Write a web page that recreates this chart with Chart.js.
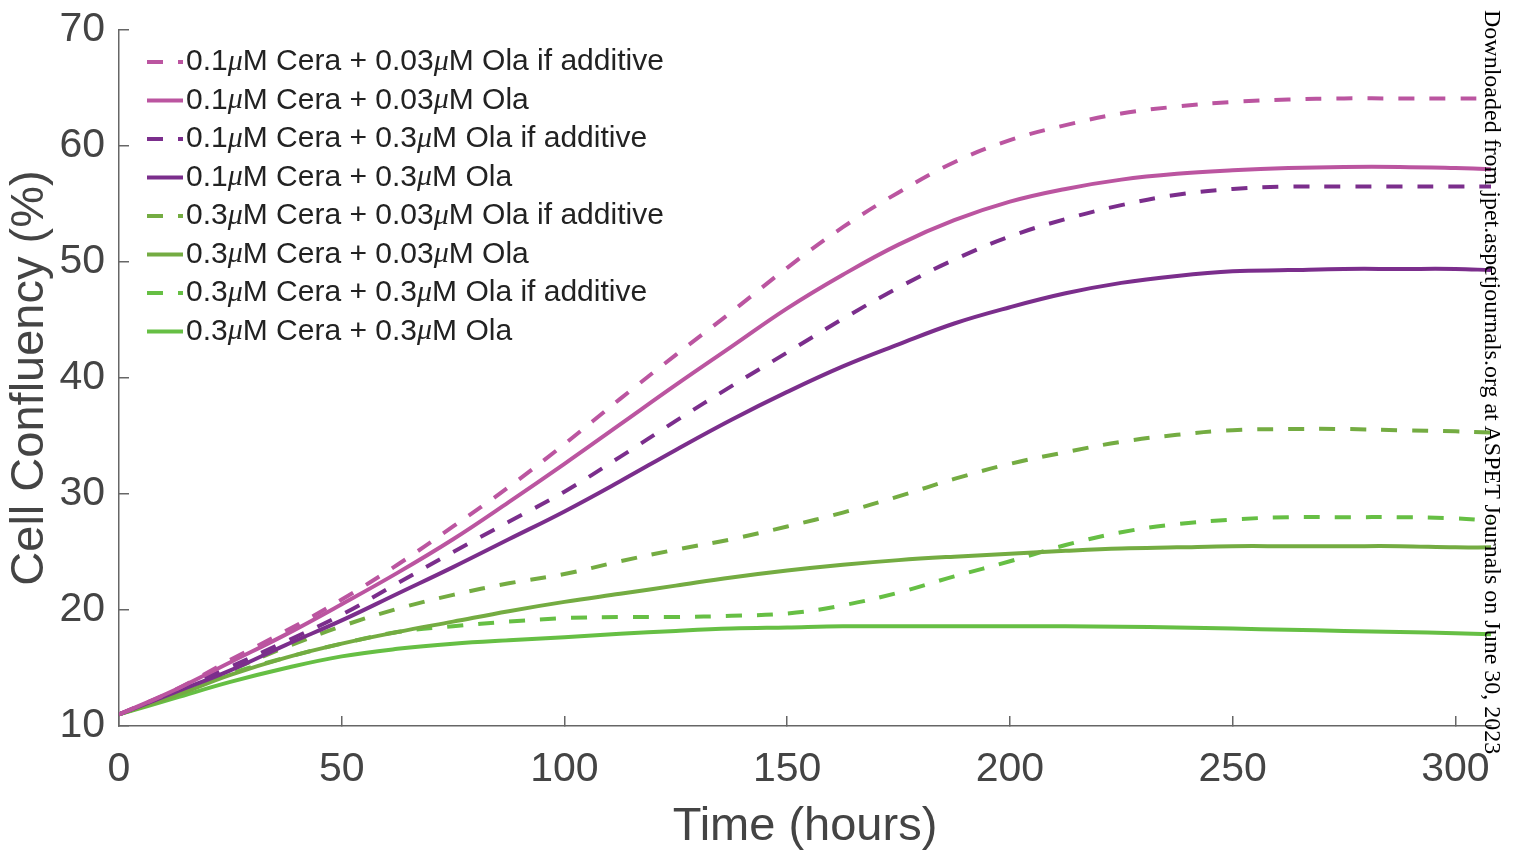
<!DOCTYPE html>
<html>
<head>
<meta charset="utf-8">
<script src="https://cdn.jsdelivr.net/npm/chart.js@4.4.0/dist/chart.umd.min.js"></script>
<style>
html,body{margin:0;padding:0;background:#fff;}
#wrap{position:relative;width:1522px;height:855px;}
#wm{position:absolute;left:1506px;top:10px;transform-origin:0 0;transform:rotate(90deg);
    font-family:"Liberation Serif","Times New Roman",serif;font-size:24px;line-height:26px;
    white-space:nowrap;color:#000;z-index:2;}
</style>
</head>
<body>
<div id="wrap">
<canvas id="c" width="1522" height="855"></canvas>
<div id="wm">Downloaded from jpet.aspetjournals.org at ASPET Journals on June 30, 2023</div>
</div>
<script>
// ---- data ----
const hours = [0, 12.5, 25, 37.5, 50, 62.5, 75, 87.5, 100, 112.5, 125, 137.5, 150, 162.5, 175, 187.5, 200, 212.5, 225, 237.5, 250, 262.5, 275, 287.5, 300, 308];

const cera01_ola003_additive = [11, 13.1, 15.7, 18.2, 20.9, 23.9, 27.2, 30.6, 34.3, 38.2, 42.0, 45.7, 49.5, 53.0, 56.0, 58.6, 60.5, 61.8, 62.8, 63.4, 63.8, 64.0, 64.1, 64.1, 64.1, 64.1];
const cera01_ola003 = [11, 13.1, 15.5, 17.9, 20.5, 23.2, 26.1, 29.3, 32.6, 36.0, 39.4, 42.7, 46.0, 48.9, 51.5, 53.6, 55.2, 56.3, 57.1, 57.6, 57.9, 58.1, 58.2, 58.2, 58.1, 58.0];
const cera01_ola03_additive = [11, 13.0, 15.1, 17.3, 19.6, 22.3, 25.0, 27.6, 30.2, 33.2, 36.3, 39.3, 42.2, 45.1, 47.8, 50.2, 52.2, 53.7, 54.9, 55.8, 56.3, 56.5, 56.5, 56.5, 56.5, 56.5];
const cera01_ola03 = [11, 12.9, 14.8, 17.0, 19.1, 21.4, 23.7, 26.1, 28.5, 31.1, 33.8, 36.4, 38.8, 41.0, 42.9, 44.7, 46.1, 47.3, 48.2, 48.8, 49.2, 49.3, 49.4, 49.4, 49.4, 49.3];
const cera03_ola003_additive = [11, 12.8, 14.8, 16.8, 18.6, 20.1, 21.3, 22.3, 23.1, 24.2, 25.2, 26.1, 27.2, 28.4, 29.8, 31.3, 32.6, 33.6, 34.5, 35.1, 35.5, 35.6, 35.6, 35.5, 35.4, 35.3];
const cera03_ola003 = [11, 12.6, 14.4, 15.9, 17.1, 18.1, 19.0, 19.9, 20.7, 21.4, 22.1, 22.8, 23.4, 23.9, 24.3, 24.6, 24.85, 25.1, 25.3, 25.4, 25.5, 25.5, 25.5, 25.5, 25.4, 25.4];
const cera03_ola03_additive = [11, 12.7, 14.5, 15.9, 17.1, 18.1, 18.6, 19.0, 19.3, 19.4, 19.4, 19.5, 19.7, 20.4, 21.5, 22.9, 24.2, 25.6, 26.7, 27.4, 27.8, 28.0, 28.0, 28.0, 27.9, 27.7];
const cera03_ola03 = [11, 12.4, 13.8, 15.0, 16.0, 16.65, 17.1, 17.4, 17.65, 17.95, 18.2, 18.4, 18.5, 18.6, 18.6, 18.6, 18.6, 18.6, 18.55, 18.5, 18.4, 18.3, 18.2, 18.1, 18.0, 17.9];

const seriesLabels = [
  "0.1μM Cera + 0.03μM Ola if additive",
  "0.1μM Cera + 0.03μM Ola",
  "0.1μM Cera + 0.3μM Ola if additive",
  "0.1μM Cera + 0.3μM Ola",
  "0.3μM Cera + 0.03μM Ola if additive",
  "0.3μM Cera + 0.03μM Ola",
  "0.3μM Cera + 0.3μM Ola if additive",
  "0.3μM Cera + 0.3μM Ola"
];
const seriesValues = [cera01_ola003_additive, cera01_ola003, cera01_ola03_additive, cera01_ola03,
                      cera03_ola003_additive, cera03_ola003, cera03_ola03_additive, cera03_ola03];
const xTickValues = [0, 50, 100, 150, 200, 250, 300];
const yTickValues = [10, 20, 30, 40, 50, 60, 70];

// ---- styles ----
const seriesColors = ['#bb55a0', '#bb55a0', '#7b2e8c', '#7b2e8c', '#74ac42', '#74ac42', '#66bf44', '#66bf44'];
const seriesDashed = [true, false, true, false, true, false, true, false];

const datasets = seriesLabels.map((lab, i) => ({
  label: lab,
  data: hours.map((h, j) => ({x: h, y: seriesValues[i][j]})),
  borderColor: seriesColors[i],
  backgroundColor: seriesColors[i],
  borderWidth: 4,
  borderDash: seriesDashed[i] ? [16, 15] : [],
  borderCapStyle: 'butt',
  pointRadius: 0,
  tension: 0.4,
  fill: false
}));

const FONT = '"Liberation Sans", Arial, Helvetica, sans-serif';

const refLegend = {
  id: 'refLegend',
  afterDraw(chart) {
    const {ctx, chartArea} = chart;
    const x0 = chartArea.left + 28, len = 36, tx = x0 + 39;
    let y = chartArea.top + 32;
    chart.data.datasets.forEach(ds => {
      ctx.save();
      ctx.strokeStyle = ds.borderColor;
      ctx.lineWidth = ds.borderWidth;
      ctx.lineCap = 'butt';
      ctx.setLineDash(ds.borderDash);
      ctx.beginPath(); ctx.moveTo(x0, y); ctx.lineTo(x0 + len, y); ctx.stroke();
      ctx.setLineDash([]);
      ctx.fillStyle = '#222';
      ctx.textBaseline = 'middle';
      ctx.textAlign = 'left';
      let x = tx;
      ds.label.split('μ').forEach((p, k) => {
        if (k > 0) {
          ctx.font = 'italic 30px "Liberation Serif", serif';
          ctx.fillText('μ', x, y);
          x += ctx.measureText('μ').width;
        }
        ctx.font = '30px ' + FONT;
        ctx.fillText(p, x, y);
        x += ctx.measureText(p).width;
      });
      ctx.restore();
      y += 38.5;
    });
  }
};

function noPad(s) { s.paddingTop = 0; s.paddingBottom = 0; s.paddingLeft = 0; s.paddingRight = 0; }

new Chart(document.getElementById('c'), {
  type: 'line',
  data: {datasets},
  plugins: [refLegend],
  options: {
    responsive: false,
    animation: false,
    events: [],
    layout: {autoPadding: false, padding: {top: 30, right: 31, bottom: 0, left: 0}},
    plugins: {legend: {display: false}, tooltip: {enabled: false}, title: {display: false}},
    scales: {
      x: {
        type: 'linear', min: 0, max: 308,
        afterFit(s) { s.height = 129; noPad(s); },
        afterBuildTicks(s) { s.ticks = xTickValues.map(v => ({value: v})); },
        border: {display: true, color: '#666', width: 1.5},
        grid: {display: true, drawOnChartArea: false, drawTicks: true, tickLength: -10, color: '#666', lineWidth: 1.5},
        ticks: {padding: 29, color: '#444', font: {family: FONT, size: 41}, maxRotation: 0},
        title: {display: true, text: 'Time (hours)', color: '#444', font: {family: FONT, size: 47}, padding: {top: 0, bottom: 0}}
      },
      y: {
        type: 'linear', min: 10, max: 70,
        afterFit(s) { s.width = 119; noPad(s); },
        afterBuildTicks(s) { s.ticks = yTickValues.map(v => ({value: v})); },
        border: {display: true, color: '#666', width: 1.5},
        grid: {display: true, drawOnChartArea: false, drawTicks: true, tickLength: -10, color: '#666', lineWidth: 1.5},
        ticks: {padding: 24, color: '#444', font: {family: FONT, size: 41}},
        title: {display: true, text: 'Cell Confluency (%)', color: '#444', font: {family: FONT, size: 47}, padding: {top: 2, bottom: 0}}
      }
    }
  }
});
</script>
</body>
</html>
